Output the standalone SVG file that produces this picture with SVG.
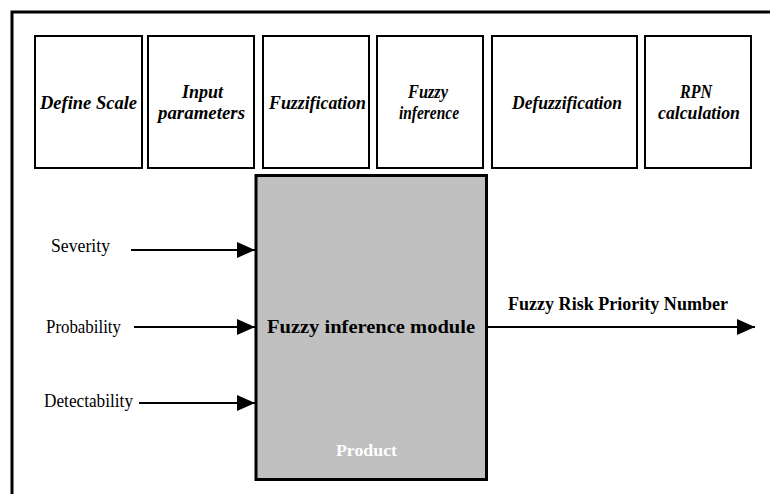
<svg xmlns="http://www.w3.org/2000/svg" width="770" height="494" viewBox="0 0 770 494">
<defs>
<style>
.step{fill:#fff;stroke:#000;stroke-width:2}
.st{font-family:'Liberation Serif', 'Times New Roman', serif;font-weight:bold;font-style:italic;font-size:18px;text-anchor:middle;fill:#000}
.lbl{font-family:'Liberation Serif', 'Times New Roman', serif;font-size:18.5px;fill:#000}
.bt{font-family:'Liberation Serif', 'Times New Roman', serif;font-weight:bold;fill:#000}
.conn{stroke:#000;stroke-width:2;fill:none}
</style>
<marker id="ah" markerWidth="18" markerHeight="16" refX="18" refY="8" orient="auto" markerUnits="userSpaceOnUse">
<path d="M0,0 L18,8 L0,16 Z" fill="#000"/>
</marker>
</defs>
<rect width="770" height="494" fill="#fff"/>
<path d="M12,494 V12 H770" fill="none" stroke="#000" stroke-width="3"/>
<g id="define-scale"><rect class="step" x="35" y="36" width="107" height="132"/><text class="st" x="88.5" y="109" textLength="97" lengthAdjust="spacingAndGlyphs">Define Scale</text></g>
<g id="input-parameters"><rect class="step" x="148" y="36" width="106" height="132"/><text class="st" x="202.5" y="98" textLength="41" lengthAdjust="spacingAndGlyphs">Input</text><text class="st" x="201.5" y="119" textLength="87" lengthAdjust="spacingAndGlyphs">parameters</text></g>
<g id="fuzzification"><rect class="step" x="263" y="36" width="106" height="132"/><text class="st" x="317.5" y="109" textLength="97" lengthAdjust="spacingAndGlyphs">Fuzzification</text></g>
<g id="fuzzy-inference"><rect class="step" x="377" y="36" width="106" height="132"/><text class="st" x="428" y="98" textLength="40" lengthAdjust="spacingAndGlyphs">Fuzzy</text><text class="st" x="429" y="119" textLength="60" lengthAdjust="spacingAndGlyphs">inference</text></g>
<g id="defuzzification"><rect class="step" x="492" y="36" width="145" height="132"/><text class="st" x="567" y="109" textLength="110" lengthAdjust="spacingAndGlyphs">Defuzzification</text></g>
<g id="rpn-calculation"><rect class="step" x="645" y="36" width="106" height="132"/><text class="st" x="696" y="98" textLength="32" lengthAdjust="spacingAndGlyphs">RPN</text><text class="st" x="699" y="119" textLength="82" lengthAdjust="spacingAndGlyphs">calculation</text></g>
<g id="module">
<rect x="256" y="175.5" width="230.5" height="304" fill="#c0c0c0" stroke="#000" stroke-width="3"/>
<text class="bt" x="267" y="333" font-size="18" textLength="208" lengthAdjust="spacingAndGlyphs">Fuzzy inference module</text>
<text class="bt" x="336" y="456" font-size="17" style="fill:#fff" textLength="61" lengthAdjust="spacingAndGlyphs">Product</text>
</g>
<g id="labels">
<text class="lbl" x="51" y="252" textLength="59" lengthAdjust="spacingAndGlyphs">Severity</text>
<text class="lbl" x="46" y="333" textLength="75" lengthAdjust="spacingAndGlyphs">Probability</text>
<text class="lbl" x="44" y="407" textLength="89" lengthAdjust="spacingAndGlyphs">Detectability</text>
<text class="bt" x="508" y="310" font-size="18" textLength="220" lengthAdjust="spacingAndGlyphs">Fuzzy Risk Priority Number</text>
</g>
<g id="connectors">
<line class="conn" x1="131" y1="250" x2="255" y2="250" marker-end="url(#ah)"/>
<line class="conn" x1="134" y1="327" x2="255" y2="327" marker-end="url(#ah)"/>
<line class="conn" x1="139" y1="403" x2="255" y2="403" marker-end="url(#ah)"/>
<line class="conn" x1="488" y1="327" x2="755" y2="327" marker-end="url(#ah)"/>
</g>
</svg>
